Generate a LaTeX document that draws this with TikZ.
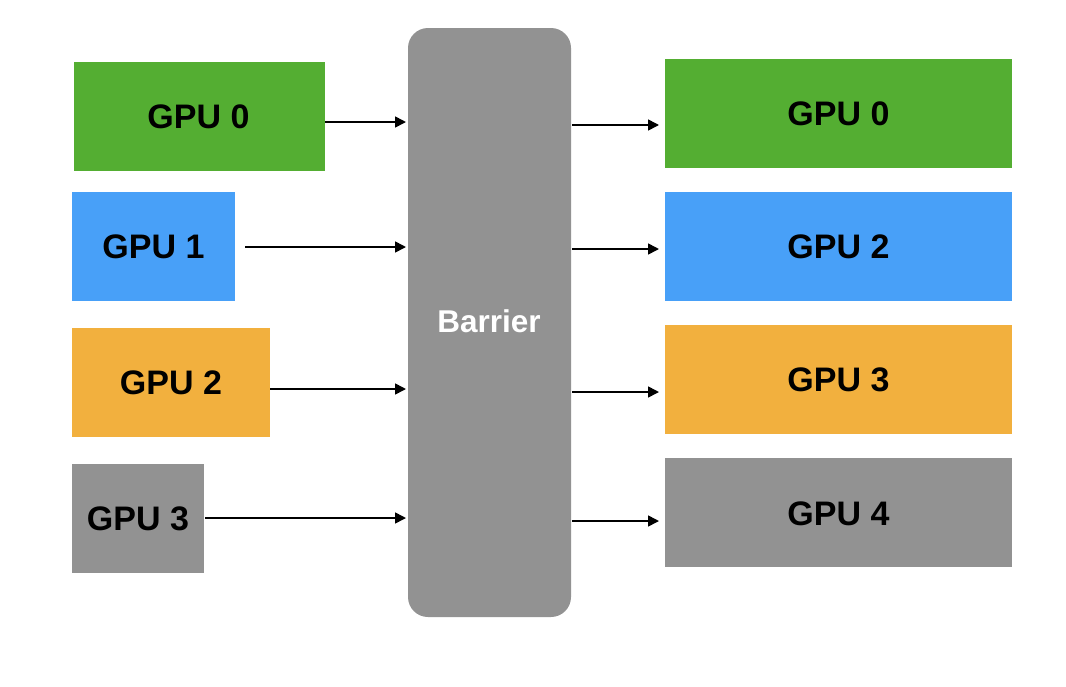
\documentclass[tikz,border=0pt]{standalone}
\usepackage{fontspec}
\setmainfont{Liberation Sans}
\usetikzlibrary{arrows.meta}
\definecolor{cgreen}{RGB}{84,174,50}
\definecolor{cblue}{RGB}{72,160,248}
\definecolor{corange}{RGB}{242,176,62}
\definecolor{cgray}{RGB}{146,146,146}
\begin{document}
\begin{tikzpicture}[x=1pt,y=-1pt,
  gpubox/.style={draw=none,inner sep=0pt,font=\fontsize{34}{40}\selectfont\bfseries},
  conn/.style={line width=1.6pt,-{Triangle[length=11pt,width=11pt]}}]
\useasboundingbox (0,0) rectangle (1066,686);
\fill[white] (0,0) rectangle (1066,686);
% barrier
\fill[cgray,rounded corners=20pt] (408,28) rectangle (571,617);
\node[text=white,font=\fontsize{31.5}{38}\selectfont\bfseries] (bar) at (489,321) {Barrier};
% left boxes
\fill[cgreen] (74,62) rectangle (325,171);
\node[gpubox] (l0) at (198.5,116.7) {GPU 0};
\fill[cblue] (72,192) rectangle (235,301);
\node[gpubox] (l1) at (153.5,246.5) {GPU 1};
\fill[corange] (72,328) rectangle (270,437);
\node[gpubox] (l2) at (171,382.5) {GPU 2};
\fill[cgray] (72,464) rectangle (204,573);
\node[gpubox] (l3) at (138,518.5) {GPU 3};
% right boxes
\fill[cgreen] (665,59) rectangle (1012,168);
\node[gpubox] (r0) at (838.5,114) {GPU 0};
\fill[cblue] (665,192) rectangle (1012,301);
\node[gpubox] (r2) at (838.5,247) {GPU 2};
\fill[corange] (665,325) rectangle (1012,434);
\node[gpubox] (r3) at (838.5,380) {GPU 3};
\fill[cgray] (665,458) rectangle (1012,567);
\node[gpubox] (r4) at (838.5,514) {GPU 4};
% connector endpoints
\coordinate (a0s) at (325,122); \coordinate (a0e) at (406,122);
\coordinate (a1s) at (245,247); \coordinate (a1e) at (406,247);
\coordinate (a2s) at (270,389); \coordinate (a2e) at (406,389);
\coordinate (a3s) at (205,518); \coordinate (a3e) at (406,518);
\coordinate (b0s) at (572,125); \coordinate (b0e) at (659,125);
\coordinate (b1s) at (572,249); \coordinate (b1e) at (659,249);
\coordinate (b2s) at (572,392); \coordinate (b2e) at (659,392);
\coordinate (b3s) at (572,521); \coordinate (b3e) at (659,521);
\draw[conn] (a0s) -- (a0e);
\draw[conn] (a1s) -- (a1e);
\draw[conn] (a2s) -- (a2e);
\draw[conn] (a3s) -- (a3e);
\draw[conn] (b0s) -- (b0e);
\draw[conn] (b1s) -- (b1e);
\draw[conn] (b2s) -- (b2e);
\draw[conn] (b3s) -- (b3e);
\end{tikzpicture}
\end{document}
